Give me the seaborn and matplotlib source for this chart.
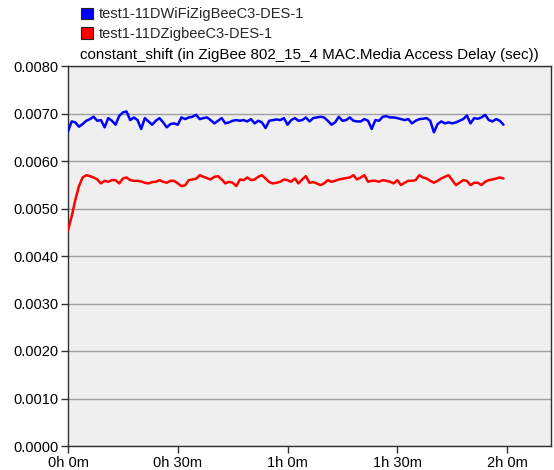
import numpy as np
import pandas as pd
import matplotlib
matplotlib.use("Agg")
import matplotlib.pyplot as plt
from matplotlib.patches import Patch
import seaborn as sns

# ---- data (time in minutes, delay in seconds) ----
series_names = ["test1-11DWiFiZigBeeC3-DES-1", "test1-11DZigbeeC3-DES-1"]
series_colors = ["#0000ff", "#ff0000"]
minutes = list(range(120))

wifi_zigbee = [
    0.006625, 0.006833, 0.006813, 0.006722, 0.006778, 0.006847, 0.006882, 0.006931, 0.006847, 0.006861,
    0.006708, 0.006903, 0.006847, 0.006764, 0.006951, 0.007021, 0.007042, 0.006861, 0.006917, 0.006861,
    0.006674, 0.006903, 0.006833, 0.006764, 0.006847, 0.006903, 0.006813, 0.006708, 0.006778, 0.006792,
    0.006764, 0.006917, 0.006882, 0.006917, 0.006931, 0.006972, 0.006882, 0.006903, 0.006917, 0.006861,
    0.006792, 0.006847, 0.006903, 0.006792, 0.006813, 0.006847, 0.006861, 0.006847, 0.006861, 0.006833,
    0.006882, 0.006792, 0.006847, 0.006813, 0.006694, 0.006847, 0.006861, 0.006875, 0.006861, 0.006903,
    0.006764, 0.006861, 0.006903, 0.006847, 0.006861, 0.006917, 0.006833, 0.006903, 0.006917, 0.006931,
    0.006917, 0.006847, 0.006764, 0.006813, 0.006931, 0.006847, 0.006861, 0.006917, 0.006847, 0.006833,
    0.006833, 0.006882, 0.006847, 0.006674, 0.006861, 0.006847, 0.006931, 0.006944, 0.006917, 0.006917,
    0.006903, 0.006882, 0.006861, 0.006882, 0.006792, 0.006847, 0.006882, 0.006889, 0.006903, 0.006847,
    0.006604, 0.006778, 0.006833, 0.006792, 0.006813, 0.006792, 0.006813, 0.006847, 0.006882, 0.006958,
    0.006792, 0.006903, 0.006889, 0.006917, 0.006972, 0.006861, 0.006833, 0.006882, 0.006847, 0.006764,
]

zigbee = [
    0.004542, 0.004833, 0.005181, 0.005472, 0.005653, 0.005701, 0.005681, 0.005653, 0.005611, 0.005528,
    0.005583, 0.005563, 0.005597, 0.005597, 0.005528, 0.005632, 0.005653, 0.005597, 0.005583, 0.005583,
    0.005569, 0.005542, 0.005528, 0.005556, 0.005563, 0.005597, 0.005563, 0.005542, 0.005583, 0.005583,
    0.005528, 0.005472, 0.005486, 0.005597, 0.005611, 0.005625, 0.005701, 0.005667, 0.005639, 0.005611,
    0.005667, 0.005681, 0.005611, 0.005528, 0.005563, 0.005542, 0.005472, 0.005611, 0.005597, 0.005653,
    0.005597, 0.005611, 0.005667, 0.005701, 0.005632, 0.005556, 0.005528, 0.005542, 0.005563, 0.005611,
    0.005597, 0.005563, 0.005632, 0.005528, 0.005611, 0.005681, 0.005542, 0.005556, 0.005528, 0.005493,
    0.005528, 0.005597, 0.005563, 0.005583, 0.005611, 0.005625, 0.005639, 0.005653, 0.005701, 0.005611,
    0.005653, 0.005701, 0.005563, 0.005583, 0.005583, 0.005563, 0.005597, 0.005583, 0.005563, 0.005528,
    0.005597, 0.005493, 0.005542, 0.005583, 0.005583, 0.005597, 0.005701, 0.005653, 0.005632, 0.005583,
    0.005542, 0.005583, 0.005632, 0.005667, 0.005701, 0.005597, 0.005493, 0.005542, 0.005597, 0.005583,
    0.005493, 0.005542, 0.005542, 0.005493, 0.005563, 0.005597, 0.005611, 0.005632, 0.005653, 0.005632,
]

y_ticks = [0.0, 0.001, 0.002, 0.003, 0.004, 0.005, 0.006, 0.007, 0.008]
x_ticks = [0, 30, 60, 90, 120]
x_tick_labels = ["0h 0m", "0h 30m", "1h 0m", "1h 30m", "2h 0m"]
title = "constant_shift (in ZigBee 802_15_4 MAC.Media Access Delay (sec))"

df = pd.DataFrame({
    "minute": minutes * 2,
    "delay": wifi_zigbee + zigbee,
    "series": [series_names[0]] * len(minutes) + [series_names[1]] * len(minutes),
})

sns.set_theme(style="white")
plt.rcParams["font.family"] = ["Liberation Sans", "DejaVu Sans"]

fig = plt.figure(figsize=(5.54, 4.70), dpi=100)
ax = fig.add_axes([68 / 554, 1 - 446 / 470, (551 - 68) / 554, (446 - 66) / 470])
ax.set_facecolor("#efefef")

sns.lineplot(data=df, x="minute", y="delay", hue="series",
             palette=dict(zip(series_names, series_colors)),
             linewidth=1.8, ax=ax, legend=False, zorder=3)

ax.set_xlim(0, 132)
ax.set_ylim(0, 0.008)
ax.set_yticks(y_ticks)
ax.set_yticklabels([f"{v:.4f}" for v in y_ticks])
ax.set_xticks(x_ticks)
ax.set_xticklabels(x_tick_labels)
ax.set_xlabel("")
ax.set_ylabel("")
ax.yaxis.grid(True, color="#a0a0a0", linewidth=1.0, zorder=1)
ax.xaxis.grid(False)
ax.set_axisbelow(True)
ax.tick_params(axis="both", direction="out", length=5, width=1, color="#303030",
               labelsize=10.5, labelcolor="#000000", left=True, bottom=True, pad=2)
for s in ax.spines.values():
    s.set_color("#303030")
    s.set_linewidth(1.0)

ax.set_title(title, fontsize=10.9, pad=5, color="#000000")

handles = [Patch(facecolor=c, edgecolor="#202020", linewidth=0.8) for c in series_colors]
fig.legend(handles, series_names, loc="upper left", bbox_to_anchor=(71 / 554, 1 + 3 / 470),
           frameon=False, fontsize=10.5, handlelength=0.8, handleheight=0.8,
           handletextpad=0.4, labelspacing=0.4, borderpad=0.2)

fig.savefig("out.png", dpi=100, facecolor="white")
